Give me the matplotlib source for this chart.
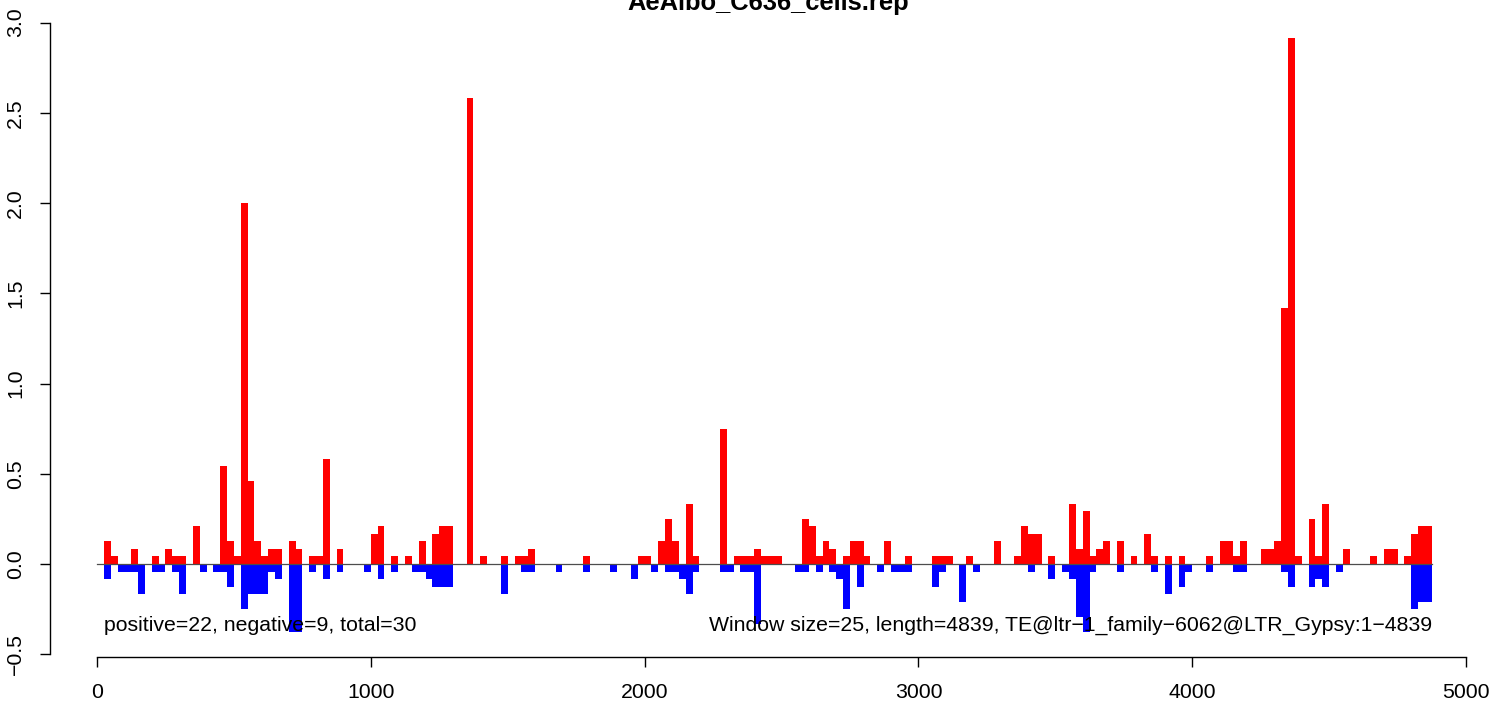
import numpy as np
import matplotlib
matplotlib.use("Agg")
import matplotlib.pyplot as plt

plt.rcParams['font.family'] = ['Liberation Sans', 'DejaVu Sans']

title = "AeAlbo_C636_cells.rep"
window = 25
unit = 1.0 / 24.0

# window index (start = index * window)
win_index = list(range(1, 195))

# positive strand values (in units of 1/24), windows 1..194
pos_units = [
    3, 1, 0, 0, 2, 0, 0, 1, 0, 2,
    1, 1, 0, 5, 0, 0, 0, 13, 3, 1,
    48, 11, 3, 1, 2, 2, 0, 3, 2, 0,
    1, 1, 14, 0, 2, 0, 0, 0, 0, 4,
    5, 0, 1, 0, 1, 0, 3, 0, 4, 5,
    5, 0, 0, 62, 0, 1, 0, 0, 1, 0,
    1, 1, 2, 0, 0, 0, 0, 0, 0, 0,
    1, 0, 0, 0, 0, 0, 0, 0, 1, 1,
    0, 3, 6, 3, 0, 8, 1, 0, 0, 0,
    18, 0, 1, 1, 1, 2, 1, 1, 1, 0,
    0, 0, 6, 5, 1, 3, 2, 0, 1, 3,
    3, 1, 0, 0, 3, 0, 0, 1, 0, 0,
    0, 1, 1, 1, 0, 0, 1, 0, 0, 0,
    3, 0, 0, 1, 5, 4, 4, 0, 1, 0,
    0, 8, 2, 7, 1, 2, 3, 0, 3, 0,
    1, 0, 4, 1, 0, 1, 0, 1, 0, 0,
    0, 1, 0, 3, 3, 1, 3, 0, 0, 2,
    2, 3, 34, 70, 1, 0, 6, 1, 8, 0,
    0, 2, 0, 0, 0, 1, 0, 2, 2, 0,
    1, 4, 5, 5,
]

# negative strand values (in units of 1/24, plotted downward)
neg_units = [
    2, 0, 1, 1, 1, 4, 0, 1, 1, 0,
    1, 4, 0, 0, 1, 0, 1, 1, 3, 0,
    6, 4, 4, 4, 1, 2, 0, 9, 9, 0,
    1, 0, 2, 0, 1, 0, 0, 0, 1, 0,
    2, 0, 1, 0, 0, 1, 1, 2, 3, 3,
    3, 0, 0, 0, 0, 0, 0, 0, 4, 0,
    0, 1, 1, 0, 0, 0, 1, 0, 0, 0,
    1, 0, 0, 0, 1, 0, 0, 2, 0, 0,
    1, 0, 1, 1, 2, 4, 1, 0, 0, 0,
    1, 1, 0, 1, 1, 8, 0, 0, 0, 0,
    0, 1, 1, 0, 1, 0, 1, 2, 6, 0,
    3, 0, 0, 1, 0, 1, 1, 1, 0, 0,
    0, 3, 1, 0, 0, 5, 0, 1, 0, 0,
    0, 0, 0, 0, 0, 1, 0, 0, 2, 0,
    1, 2, 7, 9, 1, 0, 0, 0, 1, 0,
    0, 0, 0, 1, 0, 4, 0, 3, 1, 0,
    0, 1, 0, 0, 0, 1, 1, 0, 0, 0,
    0, 0, 1, 3, 0, 0, 3, 2, 3, 0,
    1, 0, 0, 0, 0, 0, 0, 0, 0, 0,
    0, 6, 5, 5,
]

x_ticks = [0, 1000, 2000, 3000, 4000, 5000]
y_ticks = [-0.5, 0.0, 0.5, 1.0, 1.5, 2.0, 2.5, 3.0]
left_text = "positive=22, negative=9, total=30"
right_text = "Window size=25, length=4839, TE@ltr\u22121_family\u22126062@LTR_Gypsy:1\u22124839"

starts = np.array(win_index) * window
pos_vals = np.array(pos_units) * unit
neg_vals = -np.array(neg_units) * unit

W, H = 1495, 707
fig = plt.figure(figsize=(W / 100, H / 100), dpi=100)
L, R, T, B = 50, 1475, 15, 657
ax = fig.add_axes([L / W, (H - B) / H, (R - L) / W, (B - T) / H])

px_per_x = (1466 - 97) / 5000.0
px_per_y = 180.5
ax.set_xlim((L - 97) / px_per_x, (R - 97) / px_per_x)
ax.set_ylim((564 - B) / px_per_y, (564 - T) / px_per_y)

ax.bar(starts, pos_vals, width=window, align='edge', color='#FF0000', linewidth=0)
ax.bar(starts, neg_vals, width=window, align='edge', color='#0000FF', linewidth=0)
ax.plot([0, starts[-1] + window], [0, 0], color='#4D4D4D', lw=0.9, zorder=5)

for s in ['top', 'right']:
    ax.spines[s].set_visible(False)
ax.spines['left'].set_bounds(y_ticks[0], y_ticks[-1])
ax.spines['bottom'].set_bounds(x_ticks[0], x_ticks[-1])
for s in ['left', 'bottom']:
    ax.spines[s].set_linewidth(1.0)
    ax.spines[s].set_color('black')

FS = 15.3
ax.set_xticks(x_ticks)
ax.set_xticklabels([str(v) for v in x_ticks])
ax.set_yticks(y_ticks)
ax.set_yticklabels(["\u22120.5" if v < 0 else f"{v:.1f}" for v in y_ticks],
                   rotation=90, va='center')
ax.tick_params(axis='both', length=7, width=1.0, labelsize=FS, colors='black')
ax.tick_params(axis='x', pad=12)
ax.tick_params(axis='y', pad=11)

ax.text(25, -0.338, left_text, ha='left', va='center', fontsize=FS)
ax.text(4875, -0.338, right_text, ha='right', va='center', fontsize=FS)

fig.text(768 / W, 1 - 10 / H, title, ha='center', va='baseline',
         fontsize=18.4, fontweight='bold')

fig.savefig("out.png", dpi=100)
